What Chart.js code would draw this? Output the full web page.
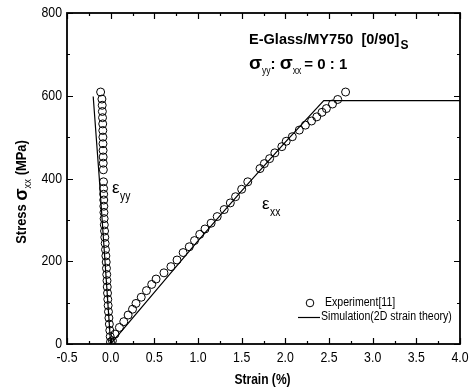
<!DOCTYPE html>
<html>
<head>
<meta charset="utf-8">
<script src="https://cdn.jsdelivr.net/npm/chart.js@4.4.0/dist/chart.umd.min.js"></script>
<style>
  body { margin: 0; background: #fff; }
  canvas { display: block; }
</style>
</head>
<body>
<canvas id="c" width="473" height="392"></canvas>
<script>
// axis ticks
const xTicks = [-0.5, 0.0, 0.5, 1.0, 1.5, 2.0, 2.5, 3.0, 3.5, 4.0];
const xTickLabels = ['-0.5', '0.0', '0.5', '1.0', '1.5', '2.0', '2.5', '3.0', '3.5', '4.0'];
const yTicks = [0, 200, 400, 600, 800];
const yTickLabels = ['0', '200', '400', '600', '800'];

// experiment, transverse strain eps_yy
const expYyStrain = [-0.115, -0.100, -0.097, -0.095, -0.093, -0.091, -0.090, -0.089, -0.088, -0.087, -0.086, -0.085, -0.084,
  -0.082, -0.081, -0.080, -0.079, -0.078, -0.077, -0.075, -0.073, -0.070, -0.067, -0.063, -0.059, -0.055, -0.051,
  -0.048, -0.045, -0.042, -0.039, -0.036, -0.033, -0.029, -0.025, -0.020, -0.015, -0.010, -0.005, -0.002];
const expYyStress = [609, 592, 577, 562, 547, 532, 516, 500, 484, 468, 452, 437, 421,
  392, 376, 362, 348, 333, 318, 303, 288, 273, 258, 243, 228, 213, 198,
  183, 168, 153, 138, 123, 108, 93, 78, 63, 48, 33, 18, 5];

// experiment, axial strain eps_xx
const expXxStrain = [0.02, 0.05, 0.10, 0.15, 0.20, 0.25, 0.29, 0.35, 0.41, 0.47, 0.52, 0.61, 0.69, 0.76, 0.83, 0.90, 0.96,
  1.02, 1.08, 1.15, 1.22, 1.30, 1.37, 1.43, 1.50, 1.57, 1.71, 1.76, 1.82, 1.88, 1.96, 2.01, 2.08, 2.16, 2.23, 2.30,
  2.36, 2.42, 2.47, 2.54, 2.60, 2.69];
const expXxStress = [8, 24, 40, 54, 70, 84, 98, 113, 129, 144, 157, 172, 187, 203, 221, 235, 250,
  265, 278, 292, 308, 325, 341, 356, 374, 392, 424, 436, 448, 462, 477, 490, 501, 517, 529, 539,
  549, 560, 569, 580, 591, 609];

// simulation (2D strain theory)
const simYyStrain = [0.0, -0.065, -0.13, -0.20];
const simYyStress = [0, 200, 400, 598];
const simXxStrain = [0.0, 0.5, 1.0, 1.5, 2.0, 2.44, 4.0];
const simXxStress = [0, 125, 249, 370, 488, 588, 588];

const pts = (xs, ys) => xs.map((x, i) => ({ x, y: ys[i] }));

const SANS = "'Liberation Sans', Arial, sans-serif";

// text squeezed horizontally (the original uses a narrow face); returns drawn width
function say(ctx, text, x, y, font, sx = 1, align = 'left') {
  ctx.font = font;
  const w = ctx.measureText(text).width * sx;
  let x0 = x;
  if (align === 'center') x0 = x - w / 2;
  else if (align === 'right') x0 = x - w;
  ctx.save();
  ctx.translate(x0, y);
  ctx.scale(sx, 1);
  ctx.textAlign = 'left';
  ctx.fillText(text, 0, 0);
  ctx.restore();
  return w;
}

const framePlugin = {
  id: 'frame',
  afterDraw(chart) {
    const { ctx, chartArea: a } = chart;
    const xs = chart.scales.x, ys = chart.scales.y;
    ctx.save();
    ctx.strokeStyle = '#000';
    ctx.fillStyle = '#000';

    // frame
    ctx.lineWidth = 1.8;
    ctx.strokeRect(a.left, a.top, a.right - a.left, a.bottom - a.top);

    // inward ticks on all sides
    ctx.lineWidth = 1.2;
    ctx.beginPath();
    for (let v = -0.5; v <= 4.0001; v += 0.25) {
      const px = Math.round(xs.getPixelForValue(v)) + 0.5;
      const major = Math.abs(v * 2 - Math.round(v * 2)) < 1e-6;
      const len = major ? 6 : 3;
      ctx.moveTo(px, a.bottom); ctx.lineTo(px, a.bottom - len);
      ctx.moveTo(px, a.top); ctx.lineTo(px, a.top + len);
    }
    for (let v = 0; v <= 800; v += 100) {
      const py = Math.round(ys.getPixelForValue(v)) + 0.5;
      const len = v % 200 === 0 ? 6 : 3;
      ctx.moveTo(a.left, py); ctx.lineTo(a.left + len, py);
      ctx.moveTo(a.right, py); ctx.lineTo(a.right - len, py);
    }
    ctx.stroke();

    // tick labels
    ctx.textBaseline = 'middle';
    xTicks.forEach((v, i) => say(ctx, xTickLabels[i], xs.getPixelForValue(v), a.bottom + 14, '15px ' + SANS, 0.82, 'center'));
    yTicks.forEach((v, i) => say(ctx, yTickLabels[i], a.left - 5, ys.getPixelForValue(v), '15px ' + SANS, 0.82, 'right'));

    // x title
    say(ctx, 'Strain (%)', (a.left + a.right) / 2 - 1, 380, 'bold 14px ' + SANS, 0.86, 'center');

    // y title (rotated)
    ctx.save();
    ctx.translate(22, 192);
    ctx.rotate(-Math.PI / 2);
    const parts = [
      ['Stress ', 'bold 15px ' + SANS, 0.86, 0],
      ['σ', 'bold 18px ' + SANS, 1, 0],
      ['xx', '11px ' + SANS, 0.86, 6],
      [' (MPa)', 'bold 15px ' + SANS, 0.86, 0]
    ];
    let total = 0;
    parts.forEach(p => { ctx.font = p[1]; total += ctx.measureText(p[0]).width * p[2]; });
    let x0 = -total / 2;
    parts.forEach(p => { x0 += say(ctx, p[0], x0, p[3], p[1], p[2]); });
    ctx.restore();

    // title block
    ctx.textBaseline = 'alphabetic';
    let tx = 249;
    tx += say(ctx, 'E-Glass/MY750  [0/90]', tx, 44, 'bold 15px ' + SANS, 0.97);
    say(ctx, 'S', tx + 1, 49, 'bold 12px ' + SANS, 1);

    tx = 249;
    tx += say(ctx, 'σ', tx, 69, 'bold 19px ' + SANS);
    tx += say(ctx, 'yy', tx, 74, '10px ' + SANS, 0.86);
    tx += say(ctx, ': ', tx, 69, 'bold 15px ' + SANS);
    tx += say(ctx, 'σ', tx, 69, 'bold 19px ' + SANS);
    tx += say(ctx, 'xx', tx, 74, '10px ' + SANS, 0.86) + 3;
    say(ctx, '= 0 : 1', tx, 69, 'bold 15px ' + SANS);

    // curve labels
    say(ctx, 'ε', 112, 193, '17px ' + SANS);
    say(ctx, 'ε', 262, 209, '17px ' + SANS);
    say(ctx, 'yy', 120, 200, '12px ' + SANS, 0.86);
    say(ctx, 'xx', 270, 216, '12px ' + SANS, 0.86);

    // legend
    ctx.lineWidth = 1;
    ctx.beginPath();
    ctx.arc(310, 303, 3.8, 0, Math.PI * 2);
    ctx.stroke();
    ctx.lineWidth = 1.2;
    ctx.beginPath();
    ctx.moveTo(298, 317.5); ctx.lineTo(320, 317.5);
    ctx.stroke();
    ctx.textBaseline = 'middle';
    say(ctx, 'Experiment[11]', 325, 303, '12px ' + SANS, 0.88);
    say(ctx, 'Simulation(2D strain theory)', 321, 317, '12px ' + SANS, 0.88);

    ctx.restore();
  }
};

const circleStyle = {
  showLine: false,
  pointStyle: 'circle',
  pointRadius: 4,
  pointBorderWidth: 1,
  pointBorderColor: '#000',
  pointBackgroundColor: 'rgba(255,255,255,0)'
};
const lineStyle = {
  showLine: true,
  pointRadius: 0,
  borderColor: '#000',
  borderWidth: 1.2,
  tension: 0
};

new Chart(document.getElementById('c'), {
  type: 'scatter',
  data: {
    datasets: [
      { label: 'Experiment yy', data: pts(expYyStrain, expYyStress), ...circleStyle },
      { label: 'Experiment xx', data: pts(expXxStrain, expXxStress), ...circleStyle },
      { label: 'Simulation yy', data: pts(simYyStrain, simYyStress), ...lineStyle },
      { label: 'Simulation xx', data: pts(simXxStrain, simXxStress), ...lineStyle }
    ]
  },
  options: {
    responsive: false,
    animation: false,
    devicePixelRatio: 1,
    layout: { padding: { left: 67, right: 13, top: 13, bottom: 48 } },
    scales: {
      x: { type: 'linear', display: false, min: -0.5, max: 4.0 },
      y: { type: 'linear', display: false, min: 0, max: 800 }
    },
    plugins: {
      legend: { display: false },
      tooltip: { enabled: false }
    }
  },
  plugins: [framePlugin]
});
</script>
</body>
</html>
